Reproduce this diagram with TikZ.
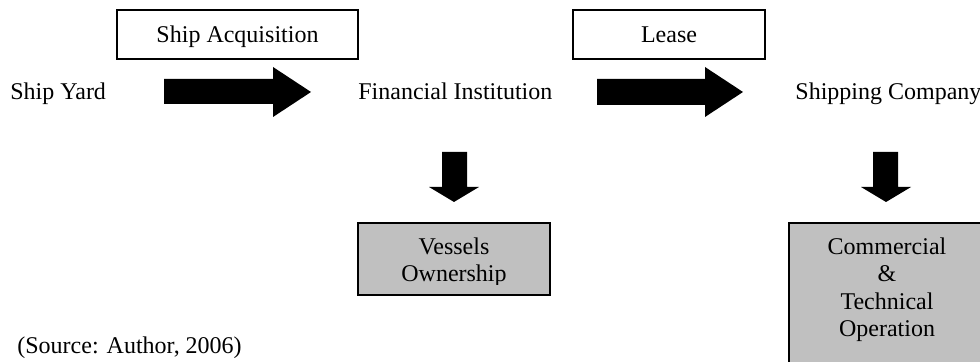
\documentclass[tikz,border=0pt]{standalone}
\usepackage{fontspec}
\setmainfont{Liberation Serif}
\begin{document}
\begin{tikzpicture}[x=0.5pt,y=-0.5pt,
  every node/.style={font=\fontsize{12}{13.6}\selectfont, inner sep=0pt},
  wbox/.style={draw=black, line width=0.85pt, fill=white},
  gbox/.style={draw=black, line width=1.4pt, fill=gray75},
  lbl/.style={anchor=base},
  blockarrow/.style={fill=black}]
\definecolor{gray75}{HTML}{C0C0C0}
\clip (0,0) rectangle (980,362);
\fill[white] (0,0) rectangle (980,362);
% top boxes
\node[wbox, minimum width=120.5pt, minimum height=24.5pt] (acqbox) at (237.5,34.5) {};
\node[lbl] (acq) at (237.5,43) {Ship Acquisition};
\node[wbox, minimum width=96pt, minimum height=24.5pt] (leasebox) at (669,34.5) {};
\node[lbl] (lease) at (669,43) {Lease};
% main row
\node[anchor=base west] (yard) at (10,100) {Ship Yard};
\node[anchor=base west] (fin) at (358,100) {Financial Institution};
\node[anchor=base west] (ship) at (795,100) {Shipping Company};
% horizontal block arrows
\fill[blockarrow] (164,79) -- (273,79) -- (273,67) -- (311,92) -- (273,117) -- (273,104) -- (164,104) -- cycle;
\fill[blockarrow] (597,79) -- (705,79) -- (705,67) -- (743,92) -- (705,117) -- (705,105) -- (597,105) -- cycle;
% vertical block arrows
\fill[blockarrow] (442,152) -- (467,152) -- (467,187) -- (479,187) -- (454,202) -- (429,187) -- (442,187) -- cycle;
\fill[blockarrow] (873,152) -- (898,152) -- (898,187) -- (911,187) -- (886,202) -- (861,187) -- (873,187) -- cycle;
% gray boxes
\node[gbox, minimum width=96pt, minimum height=36pt] (vesbox) at (454,259) {};
\begin{scope}
  \clip (360,225) rectangle (548,284.5);
  \node[lbl] (ves1) at (454,255) {Vessels};
  \node[lbl] (ves2) at (454,282) {Ownership};
\end{scope}
\node[gbox, minimum width=105pt, minimum height=80pt] (opbox) at (894,303) {};
\node[lbl] (op1) at (887,255) {Commercial};
\node[lbl] (op2) at (887,282) {\&};
\node[lbl] (op3) at (887,310) {Technical};
\node[lbl] (op4) at (887,337) {Operation};
% source
\node[anchor=base west] (src) at (17,354) {(Source: Author, 2006)};
\end{tikzpicture}
\end{document}
